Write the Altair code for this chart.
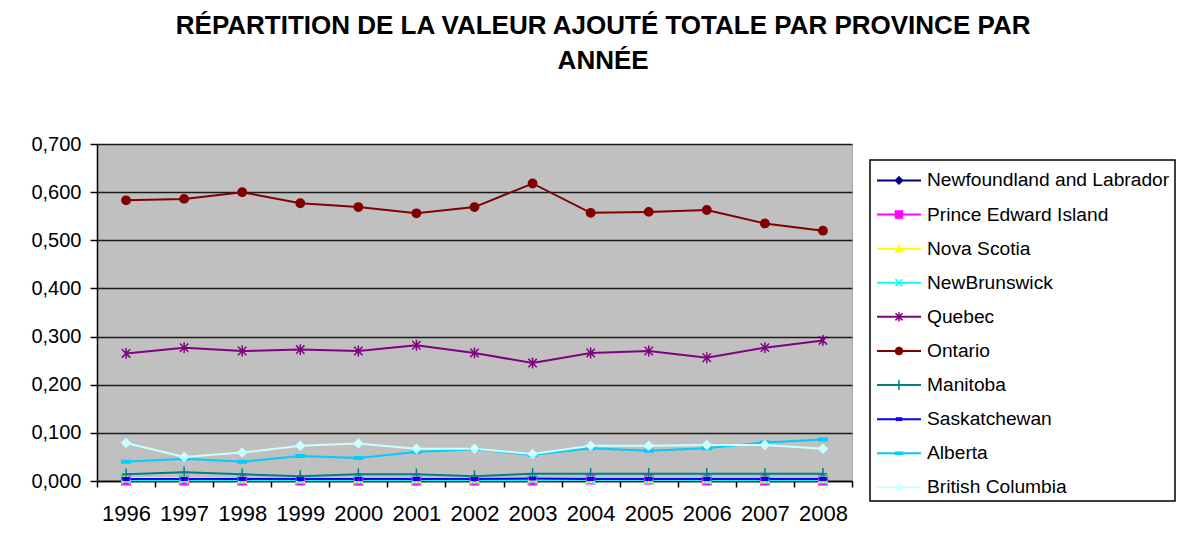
import altair as alt
import pandas as pd

years = [1996, 1997, 1998, 1999, 2000, 2001, 2002, 2003, 2004, 2005, 2006, 2007, 2008]

provinces = ["Newfoundland and Labrador", "Prince Edward Island", "Nova Scotia",
             "NewBrunswick", "Quebec", "Ontario", "Manitoba", "Saskatchewan",
             "Alberta", "British Columbia"]

newfoundland = [0.004, 0.004, 0.004, 0.004, 0.004, 0.004, 0.004, 0.004, 0.004, 0.004, 0.004, 0.004, 0.004]
pei = [0.001, 0.001, 0.001, 0.001, 0.001, 0.001, 0.001, 0.001, 0.003, 0.003, 0.001, 0.001, 0.001]
nova_scotia = [0.006, 0.006, 0.004, 0.004, 0.004, 0.004, 0.004, 0.006, 0.004, 0.004, 0.004, 0.004, 0.004]
new_brunswick = [0.002, 0.002, 0.002, 0.002, 0.002, 0.002, 0.002, 0.002, 0.002, 0.002, 0.002, 0.002, 0.002]
quebec = [0.265, 0.277, 0.270, 0.273, 0.270, 0.282, 0.266, 0.245, 0.266, 0.270, 0.256, 0.277, 0.292]
ontario = [0.583, 0.586, 0.600, 0.577, 0.569, 0.556, 0.569, 0.618, 0.557, 0.559, 0.563, 0.535, 0.520]
manitoba = [0.014, 0.018, 0.014, 0.010, 0.014, 0.014, 0.010, 0.015, 0.015, 0.015, 0.015, 0.015, 0.015]
saskatchewan = [0.004, 0.004, 0.004, 0.004, 0.004, 0.004, 0.004, 0.005, 0.004, 0.004, 0.004, 0.004, 0.004]
alberta = [0.040, 0.046, 0.040, 0.052, 0.048, 0.060, 0.066, 0.054, 0.068, 0.063, 0.068, 0.080, 0.086]
british_columbia = [0.079, 0.050, 0.059, 0.073, 0.078, 0.067, 0.067, 0.056, 0.073, 0.073, 0.075, 0.075, 0.067]

series = [newfoundland, pei, nova_scotia, new_brunswick, quebec, ontario,
          manitoba, saskatchewan, alberta, british_columbia]

colors = ["#000080", "#FF00FF", "#FFFF00", "#00FFFF", "#800080", "#800000",
          "#008080", "#0000FF", "#00CCFF", "#CCFFFF"]
shapes = ["diamond", "square", "triangle-up",
          "M-1,-1L1,1M-1,1L1,-1",
          "M-1,-1L1,1M-1,1L1,-1M0,-1.3L0,1.3",
          "circle",
          "M-1,0L1,0M0,-1.4L0,1.4",
          "M-0.7,-0.3H0.7V0.3H-0.7Z",
          "M-1,-0.3H1V0.3H-1Z",
          "diamond"]

rows = []
for p, vals in zip(provinces, series):
    for yr, v in zip(years, vals):
        rows.append({"prov": p, "year": yr, "value": v})
df = pd.DataFrame(rows)

FONT = "Liberation Sans"

color_scale = alt.Scale(domain=provinces, range=colors)
shape_scale = alt.Scale(domain=provinces, range=shapes)

x_enc = alt.X("year:Q",
              scale=alt.Scale(domain=[1995.5, 2008.5], nice=False, zero=False),
              axis=alt.Axis(values=[1995.5 + i for i in range(14)],
                            labelExpr="datum.value < 2008 ? format(datum.value + 0.5, 'd') : ''",
                            labelOffset=29, labelFlush=False, labelOverlap=False,
                            grid=False, title=None, tickSize=6, tickColor="black",
                            domainColor="black", domainWidth=1.5, tickWidth=1.5,
                            labelFont=FONT, labelFontSize=22, labelColor="black",
                            labelPadding=16))
y_enc = alt.Y("value:Q",
              scale=alt.Scale(domain=[0, 0.7], nice=False),
              axis=alt.Axis(values=[0, 0.1, 0.2, 0.3, 0.4, 0.5, 0.6, 0.7],
                            labelExpr="replace(format(datum.value, '.3f'), '.', ',')",
                            grid=True, gridColor="#1a1a1a", gridWidth=1.5,
                            title=None, tickSize=7, tickColor="black", tickWidth=1.5,
                            domainColor="black", domainWidth=1.5,
                            labelFont=FONT, labelFontSize=20, labelColor="black",
                            labelPadding=9))

base = alt.Chart(df).encode(
    x=x_enc, y=y_enc,
    color=alt.Color("prov:N", scale=color_scale, legend=None, sort=provinces),
)
lines = base.mark_line(strokeWidth=2)
points = base.mark_point(filled=True, size=70, strokeWidth=1.5, opacity=1).encode(
    shape=alt.Shape("prov:N", scale=shape_scale, legend=None, sort=provinces),
    stroke=alt.Stroke("prov:N", scale=color_scale, legend=None, sort=provinces),
)
main = alt.layer(lines, points).properties(
    width=755, height=337,
    view=alt.ViewBackground(fill="#C0C0C0", stroke="#A8A8A8", strokeWidth=1),
)

# legend panel
leg_df = pd.DataFrame({"prov": provinces, "idx": list(range(len(provinces)))})
leg_y = alt.Y("idx:Q", scale=alt.Scale(domain=[-0.6, 9.4], reverse=True, nice=False, zero=False), axis=None)
leg_base = alt.Chart(leg_df).encode(y=leg_y)
leg_rule = leg_base.mark_rule(strokeWidth=2).encode(
    x=alt.value(7), x2=alt.value(51),
    color=alt.Color("prov:N", scale=color_scale, legend=None, sort=provinces))
leg_pt = leg_base.mark_point(filled=True, size=50, strokeWidth=1.5, opacity=1).encode(
    x=alt.value(29),
    color=alt.Color("prov:N", scale=color_scale, legend=None, sort=provinces),
    stroke=alt.Stroke("prov:N", scale=color_scale, legend=None, sort=provinces),
    shape=alt.Shape("prov:N", scale=shape_scale, legend=None, sort=provinces))
leg_txt = leg_base.mark_text(align="left", baseline="middle", font=FONT, fontSize=19.2,
                             color="black").encode(x=alt.value(57), text="prov:N")
legend_panel = alt.layer(leg_rule, leg_pt, leg_txt).properties(
    width=305, height=341,
    view=alt.ViewBackground(fill="white", stroke="black", strokeWidth=1.5))

spacer = alt.Chart(pd.DataFrame({"a": [0]})).mark_point(opacity=0).encode(
    x=alt.value(0), y=alt.value(0)).properties(
    width=305, height=1, view=alt.ViewBackground(strokeOpacity=0))

legend_col = alt.vconcat(spacer, legend_panel, spacing=12)

chart = alt.hconcat(main, legend_col, spacing=18, bounds="flush").properties(
    title=alt.Title(text=["RÉPARTITION DE LA VALEUR AJOUTÉ TOTALE PAR PROVINCE PAR", "ANNÉE"],
                    font=FONT, fontSize=26, fontWeight="bold", color="black",
                    lineHeight=35, anchor="middle", offset=60),
    padding={"left": 22, "top": 4, "right": 0, "bottom": 0},
).configure(background="white")

chart.save("out.html", embed_options={"renderer": "svg", "actions": False})
